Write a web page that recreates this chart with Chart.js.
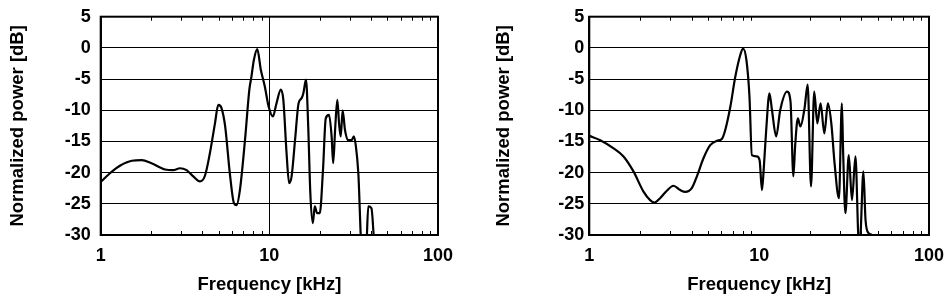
<!DOCTYPE html>
<html><head><meta charset="utf-8">
<script src="https://cdn.jsdelivr.net/npm/chart.js@4.4.0/dist/chart.umd.min.js"></script>
<style>
html,body{margin:0;padding:0;background:#fff;}
#wrap{position:relative;width:952px;height:302px;background:#fff;}
.box{position:absolute;top:0;width:476px;height:302px;}
</style></head><body>
<div id="wrap">
  <div class="box" style="left:0"><canvas id="c1" width="476" height="302"></canvas></div>
  <div class="box" style="left:476px"><canvas id="c2" width="476" height="302"></canvas></div>
</div>
<script>
// Left panel
const freqLeft  = [1.0, 1.135, 1.30, 1.53, 1.75, 2.0, 2.41, 2.69, 2.95, 3.23, 3.54, 3.88, 4.15, 4.44, 4.76, 4.98, 5.21, 5.47, 5.83, 6.17, 6.39, 6.69, 7.17, 7.61, 7.83, 8.1, 8.48, 8.9, 9.4, 9.9, 10.5, 11.0, 11.7, 12.1, 12.65, 13.1, 13.55, 14.2, 14.9, 15.5, 15.9, 16.5, 17.0, 17.5, 18.1, 18.6, 19.2, 19.9, 20.8, 21.6, 22.6, 23.4, 23.9, 24.6, 25.3, 25.9, 26.5, 27.2, 28.1, 29.4, 30.7, 31.7, 32.6, 33.7, 35.3, 37.5, 38.6, 40.3, 42.0, 45.0];
const powerLeft = [-21.5, -20.1, -18.9, -18.1, -18.0, -18.5, -19.5, -19.6, -19.3, -19.6, -20.6, -21.4, -20.5, -16.9, -12.1, -9.15, -9.7, -12.6, -20.1, -24.9, -25.2, -22.8, -14.8, -6.7, -4.6, -1.9, -0.2, -3.5, -6.2, -9.4, -11.0, -9.0, -6.7, -8.3, -16.9, -21.7, -20.6, -14.8, -8.9, -8.1, -7.3, -5.1, -12.6, -23.3, -28.1, -25.4, -26.5, -26.5, -19.6, -11.3, -10.75, -14.2, -18.5, -12.6, -8.35, -12.1, -14.2, -10.0, -13.2, -14.8, -14.8, -14.2, -15.8, -20.1, -32, -32, -25.4, -25.7, -32, -40];
// Right panel
const freqRight  = [1.0, 1.16, 1.39, 1.59, 1.82, 2.08, 2.28, 2.42, 2.61, 2.86, 3.13, 3.43, 3.67, 4.01, 4.30, 4.70, 5.15, 5.64, 6.03, 6.31, 6.77, 7.24, 7.75, 8.03, 8.41, 8.77, 9.06, 9.69, 10.06, 10.39, 10.63, 11.0, 11.5, 11.9, 12.6, 13.3, 14.6, 15.3, 15.9, 16.3, 16.9, 17.5, 18.5, 19.3, 20.2, 21.1, 22.0, 23.0, 24.2, 25.4, 26.6, 27.8, 29.5, 30.7, 31.2, 32.2, 33.7, 35.2, 36.9, 38.6, 39.2, 41.1, 42.3, 44.1, 46.0, 48.0];
const powerRight = [-14.1, -14.8, -16.1, -17.4, -19.8, -23.0, -24.4, -24.8, -24.1, -22.9, -22.1, -22.8, -23.1, -22.5, -20.6, -17.7, -15.6, -14.9, -14.6, -13.2, -9.4, -4.6, -1.1, -0.1, -1.9, -7.8, -17.2, -17.4, -18.0, -22.8, -19.6, -13.2, -7.3, -10.0, -14.2, -10.0, -7.0, -8.6, -20.6, -15.6, -11.3, -12.6, -9.7, -5.9, -22.2, -7.0, -12.1, -8.9, -13.7, -8.9, -12.1, -18.5, -24.1, -8.9, -16.4, -26.5, -17.2, -24.4, -17.4, -31, -31, -19.8, -27.6, -29.7, -30.0, -31];

const xTickValues = [1, 10, 100];
const xMinorTicks = [2,3,4,5,6,7,8,9,20,30,40,50,60,70,80,90];
const yTickValues = [5, 0, -5, -10, -15, -20, -25, -30];
const xAxisTitle = 'Frequency [kHz]';
const yAxisTitle = 'Normalized power [dB]';

const FONT = '"Liberation Sans", Arial, Helvetica, sans-serif';
const CLEAR = 'rgba(0,0,0,0)';

const framePlugin = {
  id: 'frame',
  afterDatasetsDraw(chart) {
    const {ctx, chartArea: a} = chart;
    const xs = chart.scales.x;
    ctx.save();
    ctx.strokeStyle = '#000';
    ctx.lineWidth = 1;
    xMinorTicks.forEach(v => {
      const px = Math.round(xs.getPixelForValue(v)) + 0.5;
      ctx.beginPath();
      ctx.moveTo(px, a.bottom); ctx.lineTo(px, a.bottom - 4);
      ctx.moveTo(px, a.top); ctx.lineTo(px, a.top + 4);
      ctx.stroke();
    });
    ctx.lineWidth = 2;
    ctx.strokeRect(a.left, a.top, a.right - a.left, a.bottom - a.top);
    ctx.restore();
  }
};

function makeChart(id, freq, power, o) {
  const data = freq.map((f, i) => ({x: f, y: power[i]}));
  return new Chart(document.getElementById(id), {
    type: 'scatter',
    data: { datasets: [{ data, showLine: true, borderColor: '#000', borderWidth: 2.2,
      pointRadius: 0, cubicInterpolationMode: 'monotone', fill: false }] },
    options: {
      responsive: false, animation: false, devicePixelRatio: 1,
      layout: { padding: { left: 0, right: o.rightPad, top: 16.7, bottom: 0 } },
      plugins: { legend: { display: false }, tooltip: { enabled: false } },
      scales: {
        x: {
          type: 'logarithmic', min: 1, max: 100,
          afterBuildTicks: s => { s.ticks = xTickValues.map(v => ({value: v})); },
          afterFit: s => { s.height = 67; },
          ticks: { color: '#000', padding: 0, maxRotation: 0, autoSkip: false,
            font: { family: FONT, size: 18, weight: 'bold' },
            callback: v => String(v) },
          grid: { drawTicks: true, tickLength: 10, tickColor: CLEAR,
            color: c => (o.vGrid && c.tick && c.tick.value === 10) ? '#000' : CLEAR,
            lineWidth: 1 },
          border: { display: true, color: '#000', width: 2 },
          title: { display: true, text: xAxisTitle, color: '#000',
            font: { family: FONT, size: 18.5, weight: 'bold' }, padding: { top: 0, bottom: 6 } }
        },
        y: {
          type: 'linear', min: -30, max: 5,
          afterBuildTicks: s => { s.ticks = yTickValues.map(v => ({value: v})); },
          afterFit: s => { s.width = o.yWidth; },
          ticks: { color: '#000', padding: 0,
            font: { family: FONT, size: 18, weight: 'bold' } },
          grid: { drawTicks: true, tickLength: o.tickGap, tickColor: CLEAR, color: '#000', lineWidth: 1 },
          border: { display: true, color: '#000', width: 2 },
          title: { display: true, text: yAxisTitle, color: '#000',
            font: { family: FONT, size: 18.5, weight: 'bold' }, padding: { top: o.titlePad, bottom: 0 } }
        }
      }
    },
    plugins: [framePlugin]
  });
}

makeChart('c1', freqLeft, powerLeft, { yWidth: 100.7, rightPad: 38, tickGap: 10, titlePad: 7, vGrid: true });
makeChart('c2', freqRight, powerRight, { yWidth: 113.3, rightPad: 23, tickGap: 5, titlePad: 17, vGrid: false });
</script>
</body></html>
